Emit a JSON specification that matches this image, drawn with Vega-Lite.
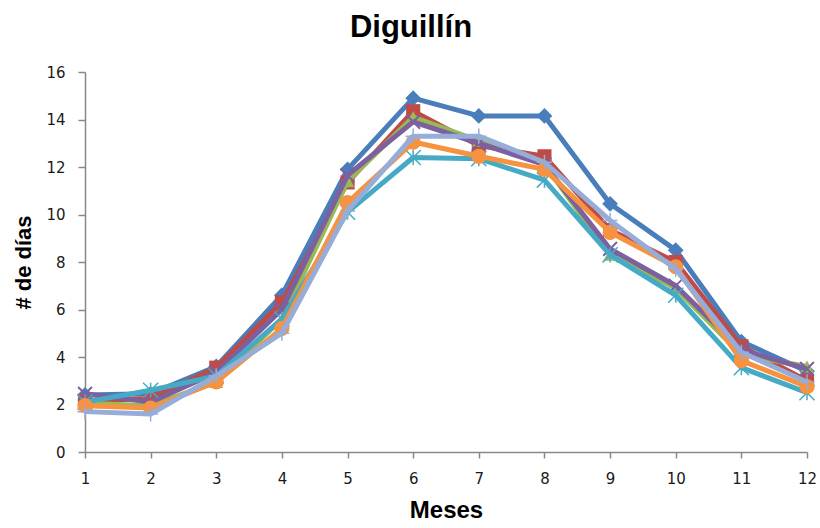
{
  "$schema": "https://vega.github.io/schema/vega-lite/v6.json",
  "width": 722,
  "height": 380,
  "autosize": "none",
  "padding": {"left": 85, "top": 72, "right": 13, "bottom": 76},
  "background": "white",
  "title": {
    "text": "Diguillín",
    "font": "Liberation Sans",
    "fontSize": 31,
    "fontWeight": "bold",
    "color": "#000000",
    "anchor": "middle",
    "dx": -35,
    "offset": 21
  },
  "config": {
    "view": {"stroke": null},
    "axis": {
      "grid": false,
      "domainColor": "#888888",
      "domainWidth": 1.5,
      "tickColor": "#888888",
      "tickWidth": 1.5,
      "tickSize": 7,
      "labelFont": "DejaVu Sans",
      "labelFontSize": 15,
      "labelColor": "#1a1a1a",
      "labelPadding": 13,
      "labelFlush": false,
      "titleFont": "Liberation Sans",
      "titleFontWeight": "bold",
      "titleColor": "#000000"
    }
  },
  "data": {
    "values": [
      {"s": "S1", "m": 1, "v": 2.4}, {"s": "S1", "m": 2, "v": 2.45}, {"s": "S1", "m": 3, "v": 3.6}, {"s": "S1", "m": 4, "v": 6.6}, {"s": "S1", "m": 5, "v": 11.9}, {"s": "S1", "m": 6, "v": 14.9}, {"s": "S1", "m": 7, "v": 14.15}, {"s": "S1", "m": 8, "v": 14.15}, {"s": "S1", "m": 9, "v": 10.45}, {"s": "S1", "m": 10, "v": 8.5}, {"s": "S1", "m": 11, "v": 4.65}, {"s": "S1", "m": 12, "v": 3.4},
      {"s": "S2", "m": 1, "v": 2.15}, {"s": "S2", "m": 2, "v": 2.25}, {"s": "S2", "m": 3, "v": 3.55}, {"s": "S2", "m": 4, "v": 6.3}, {"s": "S2", "m": 5, "v": 11.35}, {"s": "S2", "m": 6, "v": 14.35}, {"s": "S2", "m": 7, "v": 12.9}, {"s": "S2", "m": 8, "v": 12.45}, {"s": "S2", "m": 9, "v": 9.35}, {"s": "S2", "m": 10, "v": 8.0}, {"s": "S2", "m": 11, "v": 4.45}, {"s": "S2", "m": 12, "v": 3.0},
      {"s": "S3", "m": 1, "v": 2.05}, {"s": "S3", "m": 2, "v": 1.95}, {"s": "S3", "m": 3, "v": 2.95}, {"s": "S3", "m": 4, "v": 5.6}, {"s": "S3", "m": 5, "v": 11.4}, {"s": "S3", "m": 6, "v": 14.1}, {"s": "S3", "m": 7, "v": 13.1}, {"s": "S3", "m": 8, "v": 12.1}, {"s": "S3", "m": 9, "v": 8.3}, {"s": "S3", "m": 10, "v": 6.9}, {"s": "S3", "m": 11, "v": 4.1}, {"s": "S3", "m": 12, "v": 3.6},
      {"s": "S4", "m": 1, "v": 2.45}, {"s": "S4", "m": 2, "v": 2.1}, {"s": "S4", "m": 3, "v": 3.35}, {"s": "S4", "m": 4, "v": 6.0}, {"s": "S4", "m": 5, "v": 11.65}, {"s": "S4", "m": 6, "v": 13.9}, {"s": "S4", "m": 7, "v": 13.0}, {"s": "S4", "m": 8, "v": 12.1}, {"s": "S4", "m": 9, "v": 8.55}, {"s": "S4", "m": 10, "v": 7.0}, {"s": "S4", "m": 11, "v": 4.3}, {"s": "S4", "m": 12, "v": 3.5},
      {"s": "S5", "m": 1, "v": 2.1}, {"s": "S5", "m": 2, "v": 2.6}, {"s": "S5", "m": 3, "v": 3.2}, {"s": "S5", "m": 4, "v": 5.6}, {"s": "S5", "m": 5, "v": 10.1}, {"s": "S5", "m": 6, "v": 12.4}, {"s": "S5", "m": 7, "v": 12.35}, {"s": "S5", "m": 8, "v": 11.45}, {"s": "S5", "m": 9, "v": 8.3}, {"s": "S5", "m": 10, "v": 6.6}, {"s": "S5", "m": 11, "v": 3.55}, {"s": "S5", "m": 12, "v": 2.5},
      {"s": "S6", "m": 1, "v": 1.95}, {"s": "S6", "m": 2, "v": 1.85}, {"s": "S6", "m": 3, "v": 2.95}, {"s": "S6", "m": 4, "v": 5.2}, {"s": "S6", "m": 5, "v": 10.5}, {"s": "S6", "m": 6, "v": 13.05}, {"s": "S6", "m": 7, "v": 12.45}, {"s": "S6", "m": 8, "v": 11.9}, {"s": "S6", "m": 9, "v": 9.25}, {"s": "S6", "m": 10, "v": 7.8}, {"s": "S6", "m": 11, "v": 3.85}, {"s": "S6", "m": 12, "v": 2.75},
      {"s": "S7", "m": 1, "v": 1.7}, {"s": "S7", "m": 2, "v": 1.6}, {"s": "S7", "m": 3, "v": 3.2}, {"s": "S7", "m": 4, "v": 5.0}, {"s": "S7", "m": 5, "v": 10.15}, {"s": "S7", "m": 6, "v": 13.3}, {"s": "S7", "m": 7, "v": 13.3}, {"s": "S7", "m": 8, "v": 12.2}, {"s": "S7", "m": 9, "v": 9.75}, {"s": "S7", "m": 10, "v": 7.7}, {"s": "S7", "m": 11, "v": 4.2}, {"s": "S7", "m": 12, "v": 2.95}
    ]
  },
  "encoding": {
    "x": {
      "field": "m", "type": "quantitative",
      "scale": {"domain": [1, 12], "nice": false, "zero": false},
      "axis": {"values": [1,2,3,4,5,6,7,8,9,10,11,12], "title": "Meses", "titleFontSize": 24, "titlePadding": 12, "tickSize": 6}
    },
    "y": {
      "field": "v", "type": "quantitative",
      "scale": {"domain": [0, 16], "nice": false},
      "axis": {"values": [0,2,4,6,8,10,12,14,16], "title": "# de días", "titleFontSize": 22, "titlePadding": 10}
    }
  },
  "layer": [
    {"transform": [{"filter": "datum.s == 'S1'"}], "mark": {"type": "line", "color": "#4A7EBB", "strokeWidth": 5, "strokeJoin": "round", "point": {"shape": "diamond", "filled": true, "size": 250, "color": "#4A7EBB"}}},
    {"transform": [{"filter": "datum.s == 'S2'"}], "mark": {"type": "line", "color": "#BE4B48", "strokeWidth": 5, "strokeJoin": "round", "point": {"shape": "square", "filled": true, "size": 200, "color": "#BE4B48"}}},
    {"transform": [{"filter": "datum.s == 'S3'"}], "mark": {"type": "line", "color": "#98B954", "strokeWidth": 5, "strokeJoin": "round", "point": {"shape": "triangle-up", "filled": true, "size": 190, "color": "#98B954"}}},
    {"transform": [{"filter": "datum.s == 'S4'"}], "mark": {"type": "line", "color": "#7D60A0", "strokeWidth": 5, "strokeJoin": "round", "point": {"shape": "M-1,-1L1,1M-1,1L1,-1", "filled": false, "strokeWidth": 2, "size": 190, "color": "#7D60A0"}}},
    {"transform": [{"filter": "datum.s == 'S5'"}], "mark": {"type": "line", "color": "#46AAC5", "strokeWidth": 5, "strokeJoin": "round", "point": {"shape": "M-1,-1L1,1M-1,1L1,-1M0,-1L0,1", "filled": false, "strokeWidth": 1.5, "size": 230, "color": "#46AAC5"}}},
    {"transform": [{"filter": "datum.s == 'S6'"}], "mark": {"type": "line", "color": "#F69240", "strokeWidth": 5, "strokeJoin": "round", "point": {"shape": "circle", "filled": true, "size": 230, "color": "#F69240"}}},
    {"transform": [{"filter": "datum.s == 'S7'"}], "mark": {"type": "line", "color": "#95ADD8", "strokeWidth": 5, "strokeJoin": "round", "point": {"shape": "M-1,0L1,0M0,-1L0,1", "filled": false, "strokeWidth": 1.5, "size": 230, "color": "#95ADD8"}}}
  ]
}
